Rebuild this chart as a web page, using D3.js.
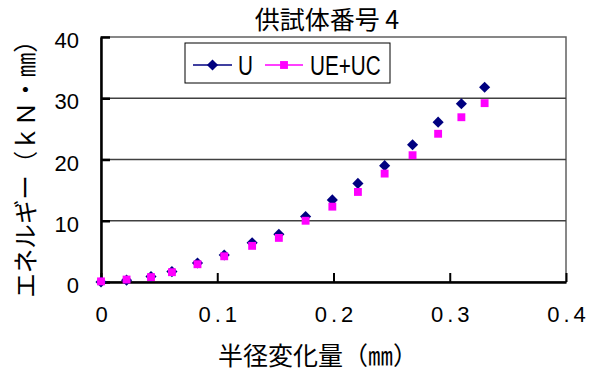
<!DOCTYPE html>
<html><head><meta charset="utf-8">
<script src="https://cdn.jsdelivr.net/npm/d3@7"></script>
<style>body{margin:0;background:#fff}svg{display:block}</style>
</head><body>
<script>
const radiusChange = [0, 0.022, 0.043, 0.061, 0.083, 0.106, 0.130, 0.153, 0.176, 0.199, 0.221, 0.244, 0.268, 0.290, 0.310, 0.330];
const seriesU = [0.0, 0.3, 0.9, 1.7, 3.1, 4.4, 6.4, 7.8, 10.7, 13.4, 16.1, 19.0, 22.4, 26.1, 29.1, 31.8];
const seriesUEUC = [0.1, 0.4, 0.8, 1.6, 2.9, 4.2, 5.9, 7.2, 10.0, 12.3, 14.7, 17.7, 20.7, 24.2, 26.9, 29.2];
const seriesNames = ["U", "UE+UC"];
const xTicks = [0, 0.1, 0.2, 0.3, 0.4];
const yTicks = [0, 10, 20, 30, 40];
const title = "供試体番号 4";
const xLabel = "半径変化量（㎜）";
const yLabel = "エネルギー（ｋＮ・㎜）";

const W = 597, H = 373;
const L = 101, R = 566, T = 37, B = 282;
const svg = d3.select("body").append("svg").attr("width", W).attr("height", H);
const x = d3.scaleLinear().domain([0, 0.4]).range([L, R]);
const y = d3.scaleLinear().domain([0, 40]).range([B, T]);
const latin = "'Liberation Sans', Arial, sans-serif";
const cjk = "'Noto Sans CJK JP', sans-serif";

// plot border
svg.append("rect").attr("x", L).attr("y", T).attr("width", R - L).attr("height", B - T)
  .attr("fill", "none").attr("stroke", "#606060").attr("stroke-width", 1.5);
// gridlines
svg.append("g").selectAll("line").data(yTicks.filter(d => d > 0 && d < 40)).join("line")
  .attr("x1", L).attr("x2", R).attr("y1", d => y(d)).attr("y2", d => y(d))
  .attr("stroke", "#404040").attr("stroke-width", 1.5);

// axes
const yAxis = d3.axisLeft(y).tickValues(yTicks).tickSizeInner(-9).tickSizeOuter(0).tickPadding(22).tickFormat(d3.format("d"));
const gy = svg.append("g").attr("transform", `translate(${L},0)`).call(yAxis);
gy.select(".domain").attr("stroke", "#000").attr("stroke-width", 2.5);
gy.selectAll(".tick line").attr("stroke", "#000").attr("stroke-width", 2.5);
gy.selectAll(".tick text").attr("font-family", latin).attr("font-size", 22).attr("fill", "#000").attr("dy", "0.48em");

const xAxis = d3.axisBottom(x).tickValues(xTicks).tickSizeInner(-9).tickSizeOuter(0).tickPadding(24)
  .tickFormat(d => d === 0 ? "0" : d3.format(".1f")(d));
const gx = svg.append("g").attr("transform", `translate(0,${B})`).call(xAxis);
gx.select(".domain").attr("stroke", "#000").attr("stroke-width", 2.5);
gx.selectAll(".tick line").attr("stroke", "#000").attr("stroke-width", 2);
gx.selectAll(".tick text").attr("font-family", latin).attr("font-size", 22).attr("fill", "#000")
  .attr("letter-spacing", d => d === 0 ? 0 : 4).attr("dx", d => d === 0 ? 0 : 2);

// data
const diamondType = { draw(ctx, size) { const r = Math.sqrt(size / 2); ctx.moveTo(0, -r); ctx.lineTo(r, 0); ctx.lineTo(0, r); ctx.lineTo(-r, 0); ctx.closePath(); } };
const diamond = d3.symbol().type(diamondType).size(62);
const square = d3.symbol().type(d3.symbolSquare).size(62);
svg.append("g").selectAll("path").data(radiusChange.map((v, i) => [v, seriesU[i]])).join("path")
  .attr("d", diamond).attr("transform", d => `translate(${x(d[0])},${y(d[1])})`)
  .attr("fill", "#000080");
svg.append("g").selectAll("path").data(radiusChange.map((v, i) => [v, seriesUEUC[i]])).join("path")
  .attr("d", square).attr("transform", d => `translate(${x(d[0])},${y(d[1])})`)
  .attr("fill", "#ff00ff");

// legend
const lg = svg.append("g");
lg.append("rect").attr("x", 185).attr("y", 43).attr("width", 205).attr("height", 40)
  .attr("fill", "#fff").attr("stroke", "#000").attr("stroke-width", 1);
const items = [{x0: 193, x1: 232, tx: 238, color: "#000080", sym: diamond, name: seriesNames[0]},
               {x0: 265, x1: 303, tx: 310, color: "#ff00ff", sym: square, name: seriesNames[1]}];
items.forEach(it => {
  lg.append("line").attr("x1", it.x0).attr("x2", it.x1).attr("y1", 65).attr("y2", 65)
    .attr("stroke", it.color).attr("stroke-width", 1.5);
  lg.append("path").attr("d", it.sym).attr("transform", `translate(${(it.x0 + it.x1) / 2},65)`).attr("fill", it.color);
  lg.append("text").attr("transform", `translate(${it.tx},65) scale(0.74,1)`).attr("dy", "0.36em")
    .attr("font-family", latin).attr("font-size", 28)
    .attr("fill", "#000").text(it.name);
});

// titles
svg.append("text").attr("x", 327).attr("y", 20).attr("dy", "0.36em").attr("text-anchor", "middle")
  .attr("font-family", cjk).attr("font-size", 25).attr("fill", "#000").text(title);
svg.append("text").attr("x", 318).attr("y", 356).attr("dy", "0.36em").attr("text-anchor", "middle")
  .attr("font-family", cjk).attr("font-size", 25).attr("fill", "#000").text(xLabel);
svg.append("text").attr("transform", "translate(26,163) rotate(-90)").attr("dy", "0.36em").attr("text-anchor", "middle")
  .attr("font-family", cjk).attr("font-size", 24.5).attr("fill", "#000").text(yLabel);
</script>
</body></html>
